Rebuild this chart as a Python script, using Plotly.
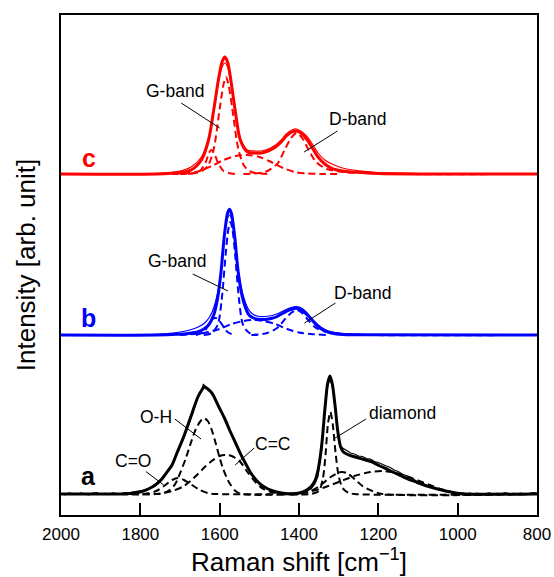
import plotly.graph_objects as go

# Vertical offsets that stack the three spectra (arbitrary intensity units)
C_OFFSET = 341
B_OFFSET = 180
A_OFFSET = 21

# ---------------- spectrum c (red) ----------------
c_sum_w = [2000, 1760, 1700, 1672, 1646, 1628, 1615, 1602, 1594, 1587, 1580, 1573, 1561, 1548, 1530,
           1510, 1495, 1478, 1459, 1445, 1432, 1418, 1406, 1392, 1379, 1365, 1352, 1335, 1317, 1290, 1263,
           1200, 800]
c_sum_h = [0, 0, 1.5, 4, 14, 34, 64, 97, 112, 117, 112, 97, 64, 34, 22,
           21, 21, 23, 27, 32, 38, 42, 43, 40, 34, 25, 17, 10, 5.6, 3, 2,
           0.5, 0]

c_meas_w = [2000, 1760, 1700, 1672, 1646, 1628, 1615, 1602, 1594, 1587, 1580, 1573, 1561, 1548, 1530,
            1510, 1495, 1478, 1459, 1445, 1432, 1418, 1406, 1392, 1379, 1365, 1352, 1335, 1317, 1290,
            1263, 1230, 1200, 1150, 1100, 800]
c_meas_h = [0, 0.5, 3, 7, 17, 36, 63, 94, 107, 111, 107, 94, 64, 36, 24,
            23, 23, 25, 29, 34, 40, 44, 45, 42, 37, 29, 21, 14, 10, 6,
            4, 2.5, 1.5, 1, 0.5, 0]

c_g_w = [1700, 1650, 1630, 1615, 1600, 1590, 1584, 1578, 1568, 1553, 1538, 1520, 1480]
c_g_h = [0, 2, 8, 25, 65, 90, 97, 90, 65, 25, 8, 2, 0]

c_d2_w = [1680, 1650, 1635, 1627, 1621, 1614, 1605, 1590, 1560]
c_d2_h = [0, 3, 12, 21, 24, 21, 12, 3, 0]

c_br_w = [1720, 1660, 1620, 1590, 1560, 1531, 1500, 1470, 1440, 1410, 1380, 1340, 1300]
c_br_h = [0, 2, 8, 14, 18, 19, 17, 12, 6, 2, 0.5, 0, 0]

c_d_w = [1540, 1500, 1480, 1455, 1435, 1420, 1406, 1392, 1377, 1357, 1330, 1290, 1240, 1150, 800]
c_d_h = [0, 1, 3, 10, 25, 36, 41, 36, 25, 12, 5, 2, 1, 0, 0]

# ---------------- spectrum b (blue) ----------------
b_sum_w = [2000, 1760, 1708, 1680, 1654, 1640, 1628, 1615, 1606, 1597, 1588, 1580, 1575, 1570, 1562,
           1553, 1541, 1526, 1515, 1503, 1485, 1468, 1455, 1441, 1425, 1406, 1392, 1379, 1365, 1352,
           1335, 1317, 1290, 1250, 800]
b_sum_h = [0, 0, 0.7, 1.5, 3.3, 6, 10, 20, 35, 61.7, 100, 122, 125.7, 121, 98,
           62, 35, 20, 17, 15.7, 15.5, 16.7, 18.5, 21.7, 25, 26.7, 24.5, 20, 14, 8.3,
           4, 1.7, 0.5, 0.2, 0]

b_meas_w = [2000, 1800, 1750, 1708, 1680, 1654, 1635, 1620, 1608, 1597, 1588, 1580, 1575, 1570, 1562,
            1553, 1541, 1528, 1515, 1500, 1485, 1468, 1450, 1435, 1420, 1406, 1392, 1377, 1362, 1345,
            1325, 1300, 1260, 1200, 1100, 800]
b_meas_h = [0, 0.3, 1, 2.5, 4.5, 8, 13, 22, 37, 62, 98, 117, 120, 116, 96,
            64, 40, 26, 20.5, 18.5, 18.5, 19.5, 22, 25, 27.5, 28.3, 26.5, 21, 14, 8,
            4, 2, 1, 0.5, 0.2, 0]

b_g_w = [1640, 1620, 1605, 1595, 1585, 1578, 1573, 1568, 1561, 1551, 1541, 1525, 1505]
b_g_h = [0, 2, 10, 35, 80, 106, 113, 106, 80, 35, 10, 2, 0]

b_d2_w = [1660, 1640, 1627, 1618, 1611, 1604, 1595, 1580, 1565]
b_d2_h = [0, 3, 11, 16, 17, 16, 11, 3, 0]

b_br_w = [1700, 1680, 1640, 1600, 1570, 1540, 1517, 1490, 1460, 1430, 1400, 1370, 1330]
b_br_h = [0, 0.5, 2, 6, 11, 14, 15, 14, 11, 6, 2.5, 1, 0]

b_d_w = [1520, 1480, 1455, 1435, 1420, 1406, 1392, 1377, 1357, 1330, 1290, 1220, 800]
b_d_h = [0, 2, 7, 16, 22, 25, 22, 15, 7, 3, 1, 0, 0]

# ---------------- spectrum a (black) ----------------
a_meas_w = [2000, 1990, 1980, 1970, 1960, 1950, 1940, 1930, 1920, 1910, 1900, 1890, 1880, 1870, 1860,
            1850, 1840, 1830, 1820, 1810, 1800, 1790, 1780, 1770, 1762, 1750, 1735, 1720, 1708, 1691,
            1673, 1655, 1645, 1641, 1637, 1630, 1619, 1602, 1590, 1575, 1560, 1548, 1535, 1521, 1508,
            1495, 1480, 1459, 1445, 1430, 1420, 1410, 1400, 1390, 1380, 1370, 1360, 1352, 1343, 1334,
            1328, 1322, 1316, 1309, 1302, 1295, 1290, 1280, 1270, 1260, 1250, 1240, 1230, 1220, 1210,
            1200, 1190, 1180, 1170, 1160, 1150, 1140, 1130, 1120, 1110, 1100, 1090, 1080, 1070, 1060,
            1050, 1040, 1030, 1020, 1010, 1000, 990, 980, 970, 960, 950, 940, 930, 920, 910,
            900, 890, 880, 870, 860, 850, 840, 830, 820, 810, 800]
a_meas_h = [0.5, -0.8, 1.2, 0.3, -0.5, 1.0, 0.2, -0.9, 0.8, 1.5, -0.3, 0.6, -0.7, 1.1, 0.4,
            -0.4, 1.3, 0.9, 1.8, 2.5, 3.0, 4, 5.5, 7.5, 10, 14, 21.5, 30, 40, 55,
            75, 96, 104, 110, 108, 106, 101, 88, 78, 64, 51, 41, 30, 21, 14,
            9.5, 5.5, 2.5, 1, 0.3, 0.8, -0.3, 1.2, 1.8, 3, 5, 10, 18, 44, 86,
            108, 115, 108, 86, 62, 48, 46, 43.5, 41, 40, 38, 37.5, 35.5, 35, 32.5,
            31.5, 29.5, 28, 26.5, 24, 22.5, 20, 18.5, 16, 14.5, 12, 11, 9, 8, 6,
            5, 3.5, 3, 1.8, 1.5, 0.5, 1.2, -0.4, 0.8, 0.2, 1.0, -0.6, 0.5, 1.1, -0.2,
            0.7, 0.0, 1.3, -0.5, 0.6, 0.2, 1.0, -0.3, 0.9, 1.5, 0.8]

a_sum_w = [2000, 1850, 1825, 1798, 1780, 1762, 1748, 1735, 1720, 1708, 1691, 1673, 1655, 1645, 1639,
           1630, 1619, 1602, 1588, 1575, 1561, 1548, 1534, 1521, 1508, 1495, 1478, 1459, 1440, 1428,
           1410, 1397, 1383, 1370, 1360, 1352, 1343, 1334, 1328, 1322, 1316, 1309, 1302, 1295, 1288,
           1280, 1263, 1240, 1218, 1196, 1174, 1150, 1129, 1107, 1085, 1062, 1040, 1018, 996, 980, 800]
a_sum_h = [0, 0, 0.5, 2.3, 5, 9, 14, 20.7, 29, 40.7, 57, 77, 97, 104, 107,
           105, 100.7, 87, 76, 64, 52, 40.7, 30, 20.7, 14, 9, 5, 2.3, 0.8, 0.3,
           0.5, 1.3, 3.5, 7.3, 13, 24, 48, 88, 110, 118, 110, 88, 62, 47, 42,
           40, 37.5, 35, 32.3, 28, 24, 19.5, 15.7, 12.3, 9, 6.3, 4, 2, 0.5, 0, 0]

a_oh_w = [1850, 1760, 1740, 1726, 1712, 1700, 1686, 1673, 1660, 1648, 1639, 1630, 1620, 1610, 1600,
          1593, 1583, 1575, 1560, 1545, 1400]
a_oh_h = [0, 0, 1, 4, 10, 20.7, 35, 50.7, 65, 73, 75.7, 73, 64, 50.7, 36,
          27.3, 17, 10.7, 3, 0, 0]

a_co_w = [1850, 1790, 1760, 1740, 1720, 1705, 1690, 1670, 1650, 1630, 1610, 1400]
a_co_h = [0, 0, 3, 8, 14, 16, 14, 9, 4, 1, 0, 0]

a_cc_w = [1850, 1760, 1720, 1690, 1660, 1640, 1620, 1600, 1585, 1570, 1550, 1530, 1510, 1490, 1465,
          1440, 1400]
a_cc_h = [0, 0, 3, 8, 18, 26, 33, 38, 39, 38, 33, 22, 12, 5, 1.5,
          0, 0]

a_dia_w = [1450, 1370, 1350, 1340, 1333, 1327, 1321, 1315, 1308, 1300, 1290, 1277, 1260, 800]
a_dia_h = [0, 0, 3, 15, 40, 70, 82, 70, 42, 18, 6, 1.5, 0, 0]

a_d1_w = [1450, 1400, 1370, 1345, 1320, 1300, 1292, 1280, 1260, 1240, 1215, 1190, 800]
a_d1_h = [0, 0, 3, 9, 17, 21.5, 22, 21, 15, 8, 3, 0, 0]

a_br_w = [1450, 1420, 1380, 1340, 1300, 1260, 1220, 1190, 1160, 1130, 1100, 1070, 1040, 1010, 980, 800]
a_br_h = [0, 0, 2, 6, 12, 18, 22, 23, 21.5, 18, 13.5, 9, 4.5, 1.5, 0, 0]

# Tick labels of the Raman-shift axis
x_ticks = [2000, 1800, 1600, 1400, 1200, 1000, 800]

RED = "#ff0000"
BLUE = "#0000ff"
BLACK = "#000000"
FONT = "Liberation Sans, Arial, sans-serif"

fig = go.Figure()


def add_curve(w, h, offset, color, width, dash="solid", smooth=True):
    fig.add_trace(go.Scatter(
        x=w, y=[v + offset for v in h], mode="lines",
        line=dict(color=color, width=width, dash=dash,
                  shape="spline" if smooth else "linear",
                  smoothing=0.8 if smooth else None),
        hoverinfo="skip", showlegend=False,
    ))


DASH = "7px,4px"

# spectrum c
for w, h in [(c_g_w, c_g_h), (c_d2_w, c_d2_h), (c_br_w, c_br_h), (c_d_w, c_d_h)]:
    add_curve(w, h, C_OFFSET, RED, 2, DASH)
add_curve(c_meas_w, c_meas_h, C_OFFSET, RED, 1.2)
add_curve(c_sum_w, c_sum_h, C_OFFSET, RED, 3)

# spectrum b
for w, h in [(b_g_w, b_g_h), (b_d2_w, b_d2_h), (b_br_w, b_br_h), (b_d_w, b_d_h)]:
    add_curve(w, h, B_OFFSET, BLUE, 2, DASH)
add_curve(b_meas_w, b_meas_h, B_OFFSET, BLUE, 1.2)
add_curve(b_sum_w, b_sum_h, B_OFFSET, BLUE, 3)

# spectrum a
for w, h in [(a_oh_w, a_oh_h), (a_co_w, a_co_h), (a_cc_w, a_cc_h),
             (a_dia_w, a_dia_h), (a_d1_w, a_d1_h), (a_br_w, a_br_h)]:
    add_curve(w, h, A_OFFSET, BLACK, 2, DASH)
add_curve(a_meas_w, a_meas_h, A_OFFSET, BLACK, 1.2, smooth=False)
add_curve(a_sum_w, a_sum_h, A_OFFSET, BLACK, 3)

# Band labels with leader lines: (text, text_x, text_y, line start, line end)
labels = [
    ("G-band", 1713, 424, (1697, 412), (1600, 387)),
    ("D-band", 1252, 396, (1303, 384), (1387, 363)),
    ("G-band", 1708, 254, (1668, 241), (1579, 224)),
    ("D-band", 1241, 222, (1308, 212), (1386, 192)),
    ("O-H", 1761, 98, (1713, 96), (1647, 76)),
    ("C=O", 1818, 54, (1786, 43.5), (1741, 30)),
    ("C=C", 1466, 71, (1513, 67), (1561, 50)),
    ("diamond", 1140, 102, (1231, 96), (1313, 76)),
]
for text, tx, ty, p0, p1 in labels:
    fig.add_annotation(x=tx, y=ty, text=text, showarrow=False,
                       font=dict(family=FONT, size=17.5, color=BLACK))
    fig.add_shape(type="line", x0=p0[0], y0=p0[1], x1=p1[0], y1=p1[1],
                  line=dict(color=BLACK, width=1))

# Spectrum letters
for letter, ty, color in [("c", 357, RED), ("b", 197, BLUE), ("a", 39, BLACK)]:
    fig.add_annotation(x=1930, y=ty, text="<b>%s</b>" % letter, showarrow=False,
                       font=dict(family=FONT, size=25, color=color))

fig.update_layout(
    width=554, height=577,
    margin=dict(l=61, r=17, t=15, b=62),
    paper_bgcolor="white", plot_bgcolor="white",
    font=dict(family=FONT, color=BLACK),
)
fig.update_xaxes(
    range=[2000, 800], tickvals=x_ticks, ticktext=[str(t) for t in x_ticks],
    ticks="inside", ticklen=12, tickwidth=2, tickcolor=BLACK,
    tickfont=dict(family=FONT, size=17, color=BLACK), ticklabelstandoff=3,
    showline=True, linecolor=BLACK, linewidth=2, mirror=True,
    showgrid=False, zeroline=False, automargin=False,
    title=dict(text="Raman shift [cm<sup>\u22121</sup>]", font=dict(family=FONT, size=26, color=BLACK),
               standoff=1),
)
fig.update_yaxes(
    range=[0, 500], showticklabels=False, ticks="",
    showline=True, linecolor=BLACK, linewidth=2, mirror=True,
    showgrid=False, zeroline=False, automargin=False,
    title=dict(text="Intensity [arb. unit]", font=dict(family=FONT, size=26, color=BLACK),
               standoff=16),
)

fig.write_html("out.html")
